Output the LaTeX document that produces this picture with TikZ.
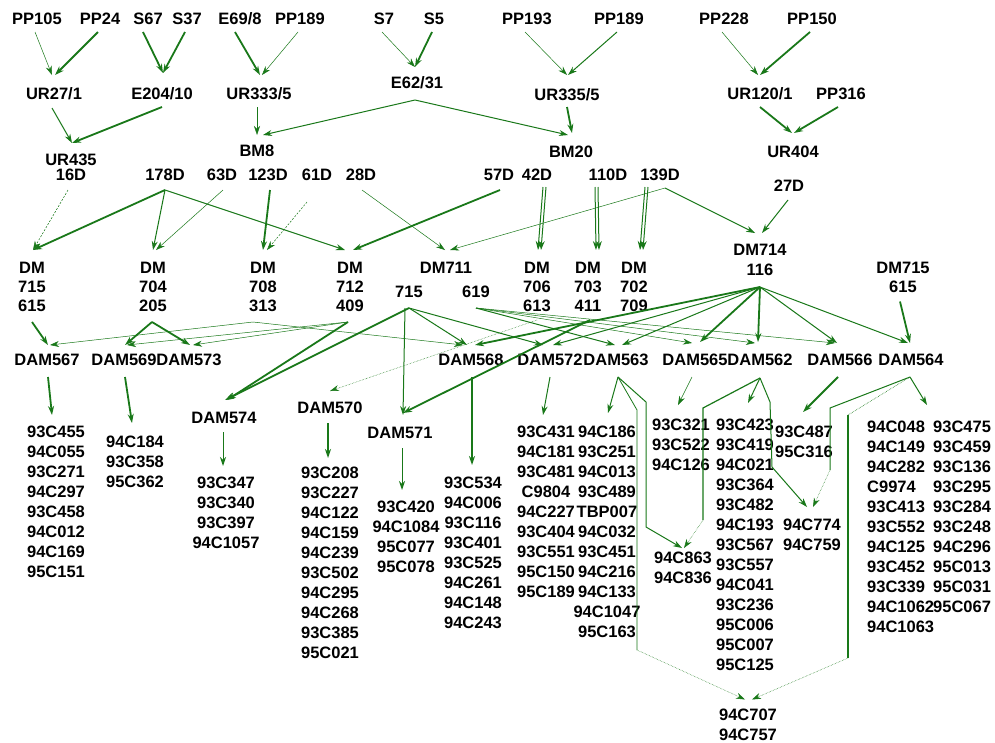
\documentclass[tikz,border=0pt]{standalone}
\usepackage{fontspec}
\setmainfont{Liberation Sans}
\usetikzlibrary{arrows.meta,calc}
\definecolor{lc}{RGB}{25,120,25}
\tikzset{
  arr/.style={-{Stealth[length=9pt,width=6pt]}},
  e1/.style={draw=lc, line width=0.5pt, arr},
  e2/.style={draw=lc, line width=1pt, arr},
  e3/.style={draw=lc, line width=1.8pt, arr},
  dl/.style={dash pattern=on 2pt off 1.5pt},
  seg/.style={draw=lc, line width=0.8pt},
  lst/.style={align=center},
  dmn/.style={align=center, font=\fontsize{16.5}{19}\selectfont\bfseries},
}
\begin{document}
\begin{tikzpicture}[x=1pt,y=-1pt, every node/.style={font=\fontsize{16.5}{20}\selectfont\bfseries, inner sep=0pt, text=black}]
\useasboundingbox[fill=white] (0,0) rectangle (995,742);
% row 1
\node (pp105) at (37,19) {PP105};
\node (pp24) at (100,19) {PP24};
\node (s67) at (148,19) {S67};
\node (s37) at (187,19) {S37};
\node (e69) at (240,19) {E69/8};
\node (pp189a) at (300,19) {PP189};
\node (s7) at (384,19) {S7};
\node (s5) at (434,19) {S5};
\node (pp193) at (527,19) {PP193};
\node (pp189b) at (619,19) {PP189};
\node (pp228) at (724,19) {PP228};
\node (pp150) at (812,19) {PP150};
% row 2
\node (ur27) at (54,94) {UR27/1};
\node (e204) at (162,94) {E204/10};
\node (ur333) at (259,94) {UR333/5};
\node (e62) at (417,83) {E62/31};
\node (ur335) at (567,95) {UR335/5};
\node (ur120) at (760,94) {UR120/1};
\node (pp316) at (841,94) {PP316};
% row 3
\node (ur435) at (71,160) {UR435};
\node (bm8) at (257,151) {BM8};
\node (bm20) at (571,152) {BM20};
\node (ur404) at (793,152) {UR404};
% D row
\node (d16) at (71,175) {16D};
\node (d178) at (165,175) {178D};
\node (d63) at (222,175) {63D};
\node (d123) at (268,175) {123D};
\node (d61) at (317,175) {61D};
\node (d28) at (361,175) {28D};
\node (d57) at (499,175) {57D};
\node (d42) at (537,175) {42D};
\node (d110) at (608,175) {110D};
\node (d139) at (660,175) {139D};
\node (d27) at (789,186) {27D};
% DM row
\node[dmn] (dm715) at (32,287) {DM\\715\\615};
\node[dmn] (dm704) at (153,287) {DM\\704\\205};
\node[dmn] (dm708) at (263,287) {DM\\708\\313};
\node[dmn] (dm712) at (350,287) {DM\\712\\409};
\node (dm711) at (446,268) {DM711};
\node (l715) at (409,292) {715};
\node (l619) at (476,292) {619};
\node[dmn] (dm706) at (537,287) {DM\\706\\613};
\node[dmn] (dm703) at (588,287) {DM\\703\\411};
\node[dmn] (dm702) at (634,287) {DM\\702\\709};
\node[lst] (dm714) at (760,260) {DM714\\116};
\node[dmn] (dm715r) at (903,277.5) {DM715\\615};
% DAM row
\node (dam567) at (47,360) {DAM567};
\node (dam569) at (124,360) {DAM569};
\node (dam573) at (189,360) {DAM573};
\node (dam568) at (471,360) {DAM568};
\node (dam572) at (550,360) {DAM572};
\node (dam563) at (616,360) {DAM563};
\node (dam565) at (695,360) {DAM565};
\node (dam562) at (760,360) {DAM562};
\node (dam566) at (840,360) {DAM566};
\node (dam564) at (911,360) {DAM564};
\node (dam574) at (224,418) {DAM574};
\node (dam570) at (330,408) {DAM570};
\node (dam571) at (400,433) {DAM571};
% lists
\node[lst] (l567) at (56,502) {93C455\\94C055\\93C271\\94C297\\93C458\\94C012\\94C169\\95C151};
\node[lst] (l569) at (135,462) {94C184\\93C358\\95C362};
\node[lst] (l574) at (226,513) {93C347\\93C340\\93C397\\94C1057};
\node[lst] (l570) at (330,563) {93C208\\93C227\\94C122\\94C159\\94C239\\93C502\\94C295\\94C268\\93C385\\95C021};
\node[lst] (l571) at (406,537) {93C420\\94C1084\\95C077\\95C078};
\node[lst] (l568) at (473,553) {93C534\\94C006\\93C116\\93C401\\93C525\\94C261\\94C148\\94C243};
\node[lst] (l572) at (546,512) {93C431\\94C181\\93C481\\C9804\\94C227\\93C404\\93C551\\95C150\\95C189};
\node[lst] (l563) at (607,532) {94C186\\93C251\\94C013\\93C489\\TBP007\\94C032\\93C451\\94C216\\94C133\\94C1047\\95C163};
\node[lst] (l565) at (681,445) {93C321\\93C522\\94C126};
\node[lst] (l562) at (745,545) {93C423\\93C419\\94C021\\93C364\\93C482\\94C193\\93C567\\93C557\\94C041\\93C236\\95C006\\95C007\\95C125};
\node[lst] (l566) at (804,442) {93C487\\95C316};
\node[lst] (l774) at (812,535) {94C774\\94C759};
\node[lst] (l863) at (683,568) {94C863\\94C836};
\node[align=left, anchor=west] (l564a) at (867,527) {94C048\\94C149\\94C282\\C9974\\93C413\\93C552\\94C125\\93C452\\93C339\\94C1062\\94C1063};
\node[align=left, anchor=west] (l564b) at (933,517) {93C475\\93C459\\93C136\\93C295\\93C284\\93C248\\94C296\\95C013\\95C031\\95C067};
\node[lst] (l707) at (748,724.5) {94C707\\94C757};
% top connectors
\draw[e1] ($(pp105)+(-2,13)$) -- ($(ur27)+(-2,-19)$);
\draw[e3] ($(pp24)+(-2,13)$) -- ($(ur27)+(1,-19)$);
\draw[e3] ($(s67)+(-5,13)$) -- ($(e204)+(1,-21)$);
\draw[e3] ($(s37)+(-2,13)$) -- ($(e204)+(1,-21)$);
\draw[e3] ($(e69)+(-5,13)$) -- ($(ur333)+(1,-19)$);
\draw[e1] ($(pp189a)+(-2,13)$) -- ($(ur333)+(3,-19)$);
\draw[e2] ($(ur27)+(-2,14)$) -- ($(ur435)+(1,-17)$);
\draw[e3] ($(e204)+(0,13)$) -- ($(ur435)+(1,-17)$);
\draw[e1] ($(ur333)+(-2,13)$) -- ($(bm8)+(0,-16)$);
\draw[e2] ($(e62)+(-2,17)$) -- ($(bm8)+(6,-16)$);
\draw[e2] ($(e62)+(-2,17)$) -- ($(bm20)+(-3,-17)$);
\draw[e1] ($(s7)+(-2,13)$) -- ($(e62)+(-2,-16)$);
\draw[e3] ($(s5)+(-2,13)$) -- ($(e62)+(-2,-16)$);
\draw[e1] ($(pp193)+(-2,13)$) -- ($(ur335)+(0,-20)$);
\draw[e2] ($(pp189b)+(-2,13)$) -- ($(ur335)+(1,-20)$);
\draw[e3] ($(ur335)+(0,12)$) -- ($(bm20)+(1,-19)$);
\draw[e1] ($(pp228)+(-2,13)$) -- ($(ur120)+(-2,-19)$);
\draw[e3] ($(pp150)+(-2,13)$) -- ($(ur120)+(0,-19)$);
\draw[e3] ($(ur120)+(0,13)$) -- ($(ur404)+(-1,-19)$);
\draw[e3] ($(pp316)+(-3,13)$) -- ($(ur404)+(1,-19)$);
% D row to DM row
\draw[e1,dl] ($(d16)+(-3,15)$) -- ($(dm715)+(1,-37)$);
\draw[e3] ($(d178)+(0,15)$) -- ($(dm715)+(1,-37)$);
\draw[e2] ($(d178)+(0,15)$) -- ($(dm704)+(0,-37)$);
\draw[e2] ($(d178)+(0,15)$) -- ($(dm712)+(-5,-37)$);
\draw[e1] ($(d63)+(1,15)$) -- ($(dm704)+(3,-37)$);
\draw[e3] ($(d123)+(2,15)$) -- ($(dm708)+(0,-37)$);
\draw[e1,dl] ($(d61)+(-10,27)$) -- ($(dm708)+(4,-37)$);
\draw[e1] ($(d28)+(1,15)$) -- ($(dm711)+(-1,-18)$);
\draw[e3] ($(d57)+(1,15)$) -- ($(dm712)+(3,-37)$);
\draw[e2] ($(d42)+(6,12)$) -- ($(dm706)+(1,-37)$);
\draw[e2] ($(d42)+(9,12)$) -- ($(dm706)+(4,-37)$);
\draw[e2] ($(d110)+(-13,12)$) -- ($(dm703)+(8,-37)$);
\draw[e2] ($(d110)+(-10,12)$) -- ($(dm703)+(11,-37)$);
\draw[e2] ($(d139)+(-15,12)$) -- ($(dm702)+(6,-37)$);
\draw[e2] ($(d139)+(-12,12)$) -- ($(dm702)+(9,-37)$);
\draw[e1] ($(d139)+(5,13)$) -- ($(dm711)+(4,-18)$);
\draw[e2] ($(d139)+(5,13)$) -- ($(dm714)+(-5,-27)$);
\draw[e2] ($(d27)+(-1,14)$) -- ($(dm714)+(2,-27)$);
% DM row to DAM row
\draw[e3] ($(dm715)+(0,35)$) -- ($(dam567)+(1,-15)$);
\draw[e1] ($(dm708)+(-10,35)$) -- ($(dam567)+(3,-15)$);
\draw[e3] ($(dm704)+(-1,35)$) -- ($(dam569)+(1,-15)$);
\draw[e3] ($(dm704)+(-1,35)$) -- ($(dam573)+(1,-15)$);
\draw[e1] ($(dm712)+(-2,35)$) -- ($(dam569)+(3,-15)$);
\draw[e1] ($(dm712)+(-2,35)$) -- ($(dam573)+(4,-15)$);
\draw[e1] ($(dm708)+(-10,35)$) -- ($(dam568)+(-8,-15)$);
\draw[e3] ($(dm712)+(-2,35)$) -- ($(dam574)+(3,-18)$);
\draw[e3] ($(l715)+(0,16)$) -- ($(dam574)+(1,-18)$);
\draw[e1,densely dotted] ($(dm706)+(0,33)$) -- ($(dam570)+(0,-17)$);
\draw[e2] ($(l715)+(-4,16)$) -- ($(dam571)+(3,-18)$);
\draw[e3] ($(dm703)+(2,33)$) -- ($(dam571)+(3,-20)$);
\draw[e2] ($(l715)+(0,16)$) -- ($(dam568)+(-4,-15)$);
\draw[e2] ($(l715)+(0,16)$) -- ($(dam572)+(-7,-15)$);
\draw[e3] ($(dm714)+(0,27)$) -- ($(dam568)+(4,-15)$);
\draw[e2] ($(dm714)+(0,27)$) -- ($(dam572)+(3,-15)$);
\draw[e2] ($(dm714)+(0,27)$) -- ($(dam563)+(6,-15)$);
\draw[e3] ($(dm714)+(0,27)$) -- ($(dam565)+(5,-18)$);
\draw[e3] ($(dm714)+(0,27)$) -- ($(dam562)+(-2,-18)$);
\draw[e2] ($(dm714)+(0,27)$) -- ($(dam566)+(-3,-17)$);
\draw[e2] ($(dm714)+(0,27)$) -- ($(dam564)+(-3,-17)$);
\draw[e3] ($(dm715r)+(-3,24)$) -- ($(dam564)+(-1,-17)$);
\draw[e2] ($(l619)+(0,16)$) -- ($(dam563)+(-1,-15)$);
\draw[e1] ($(l619)+(0,16)$) -- ($(dam565)+(-3,-17)$);
\draw[e1] ($(l619)+(0,16)$) -- ($(dam562)+(-5,-17)$);
\draw[e1] ($(l619)+(0,16)$) -- ($(dam566)+(-5,-17)$);
% DAM to lists
\draw[e3] ($(dam567)+(1,17)$) -- ($(l567)+(-4,-87)$);
\draw[e3] ($(dam569)+(1,17)$) -- ($(l569)+(-3,-39)$);
\draw[e2] ($(dam574)+(-1,14)$) -- ($(l574)+(-3,-47)$);
\draw[e3] ($(dam570)+(-2,15)$) -- ($(l570)+(-2,-105)$);
\draw[e2] ($(dam571)+(2,15)$) -- ($(l571)+(-4,-47)$);
\draw[e3] ($(dam568)+(1,17)$) -- ($(l568)+(-1,-88)$);
\draw[e2] ($(dam572)+(0,17)$) -- ($(l572)+(-3,-97)$);
\draw[e2] ($(dam563)+(2,17)$) -- ($(l563)+(1,-119)$);
\draw[e1] ($(dam565)+(-3,17)$) -- ($(l565)+(-3,-40)$);
\draw[e2] ($(dam562)+(0,18)$) -- ($(l562)+(3,-142)$);
\draw[e3] ($(dam566)+(-2,17)$) -- ($(l566)+(-1,-30)$);
\draw[e2] ($(dam564)+(-1,17)$) -- ($(l564a.west)+(60,-122)$);
% bent connectors
\coordinate (k1) at (637,410);
\coordinate (k2) at (637,650);
\draw[seg] ($(dam563)+(2,17)$) -- (k1) -- (k2);
\draw[e1,densely dotted] (k2) -- ($(l707)+(-3,-25)$);
\coordinate (k3) at (646,402);
\coordinate (k4) at (646,527);
\draw[e2] ($(dam563)+(2,17)$) -- (k3) -- (k4) -- ($(l863)+(-1,-20)$);
\coordinate (k5) at (703,408);
\coordinate (k6) at (703,520);
\draw[seg, line width=1.2pt] ($(dam562)+(0,18)$) -- (k5) -- (k6);
\draw[e1,densely dotted] (k6) -- ($(l863)+(1,-20)$);
\coordinate (k7) at (770,402);
\coordinate (k8) at (772,467);
\draw[e2] ($(dam562)+(0,18)$) -- (k7) -- (k8) -- ($(l774)+(-5,-28)$);
\coordinate (k9) at (830,408);
\coordinate (k10) at (830,470);
\draw[seg, line width=1pt] ($(dam564)+(-1,17)$) -- (k9) -- (k10);
\draw[e1,densely dotted] (k10) -- ($(l774)+(1,-28)$);
\coordinate (k11) at (848,415);
\coordinate (k12) at (848,658);
\draw[seg, line width=0.6pt, densely dotted] ($(dam564)+(-1,17)$) -- (k11);
\draw[seg, line width=1.8pt] (k11) -- (k12);
\draw[e1,densely dotted] (k12) -- ($(l707)+(4,-25)$);
\end{tikzpicture}
\end{document}
